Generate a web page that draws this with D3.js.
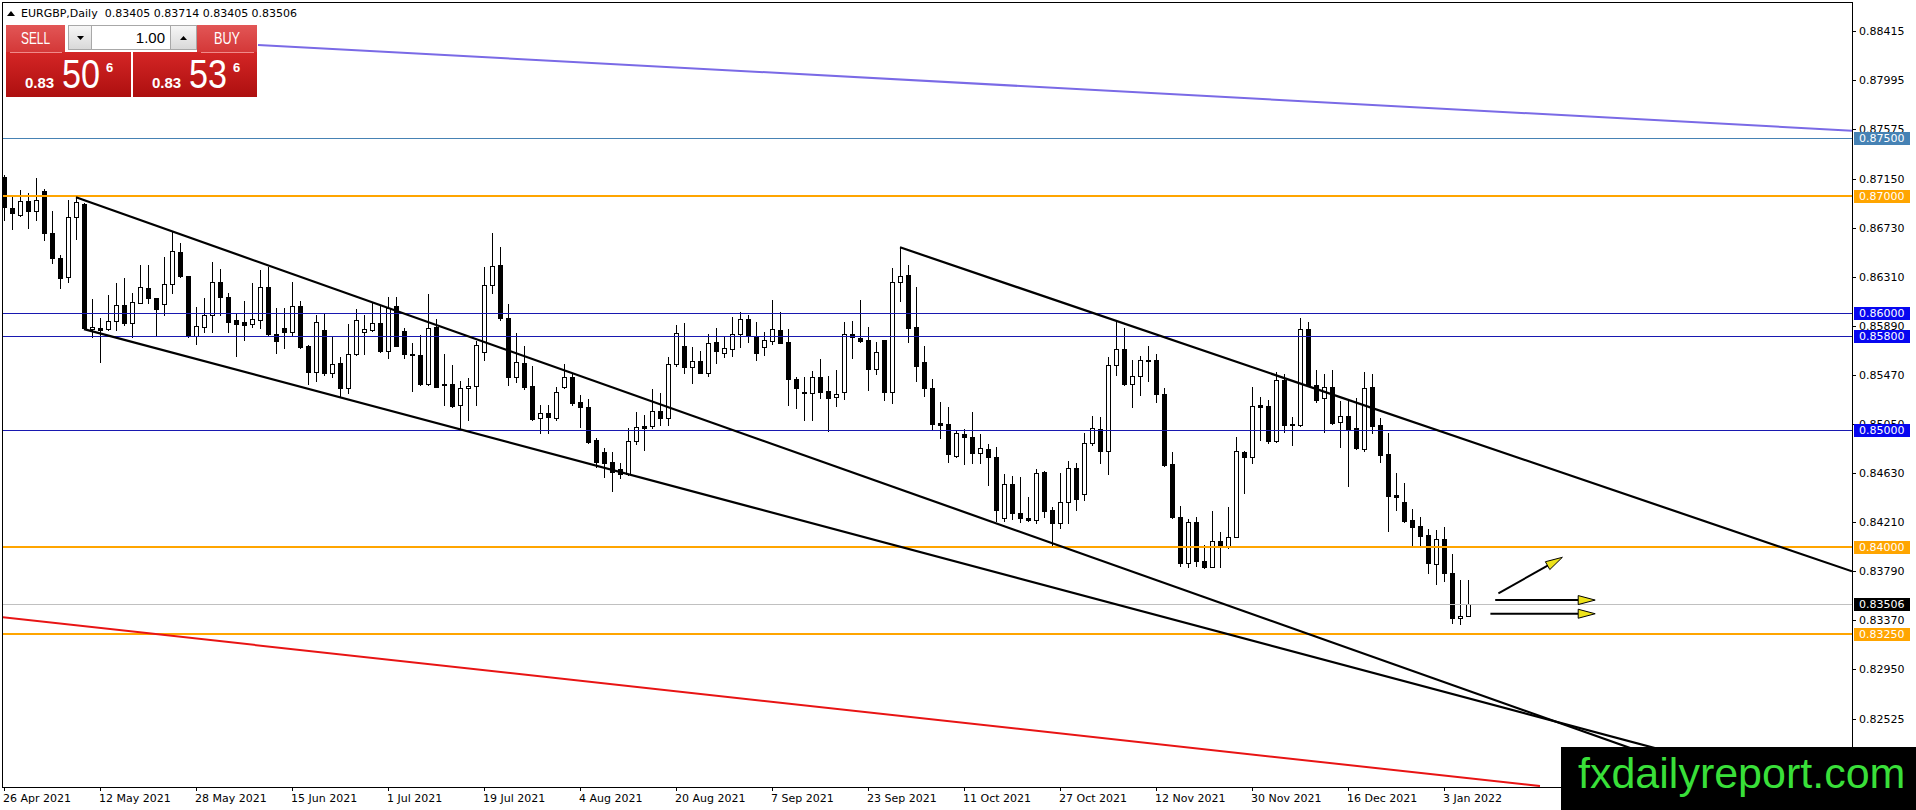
<!DOCTYPE html>
<html>
<head>
<meta charset="utf-8">
<script src="https://cdn.jsdelivr.net/npm/d3@7"></script>
<style>
  html, body { margin: 0; padding: 0; background: #fff; }
  svg { display: block; }
</style>
</head>
<body>
<svg id="chart" width="1916" height="810" font-family="'DejaVu Sans', sans-serif"></svg>
<script>
// EURGBP daily bars from 26 Apr 2021
const opens = [
  0.87166, 0.86895, 0.86838, 0.86958, 0.86872, 0.87043, 0.86681, 0.86467, 0.86305, 0.86818,
  0.86930, 0.85860, 0.85874, 0.85860, 0.85931, 0.86068, 0.85916, 0.86088, 0.86211, 0.86125,
  0.86074, 0.86245, 0.86519, 0.86316, 0.85805, 0.85882, 0.85982, 0.86262, 0.86134, 0.85939,
  0.85922, 0.85905, 0.85939, 0.86224, 0.85817, 0.85868, 0.85839, 0.86062, 0.85717, 0.85497,
  0.85854, 0.85489, 0.85569, 0.85362, 0.85647, 0.85833, 0.85858, 0.85916, 0.85677, 0.86062,
  0.85845, 0.85649, 0.85640, 0.85396, 0.85882, 0.85389, 0.85389, 0.85212, 0.85355, 0.85375,
  0.85668, 0.86239, 0.86410, 0.85954, 0.85454, 0.85574, 0.85375, 0.85098, 0.85141, 0.85098,
  0.85370, 0.85449, 0.85238, 0.85192, 0.84913, 0.84812, 0.84727, 0.84662, 0.84622, 0.84904,
  0.85032, 0.85032, 0.85163, 0.85098, 0.85563, 0.85717, 0.85535, 0.85591, 0.85489, 0.85749,
  0.85660, 0.85689, 0.85817, 0.85948, 0.85803, 0.85706, 0.85762, 0.85854, 0.85749, 0.85432,
  0.85323, 0.85312, 0.85449, 0.85332, 0.85278, 0.85326, 0.85817, 0.85788, 0.85768, 0.85518,
  0.85768, 0.85326, 0.86262, 0.86325, 0.85877, 0.85578, 0.85355, 0.85061, 0.85049, 0.84778,
  0.84964, 0.84936, 0.84799, 0.84833, 0.84770, 0.84242, 0.84536, 0.84285, 0.84242, 0.84228,
  0.84641, 0.84313, 0.84200, 0.84384, 0.84670, 0.84450, 0.84884, 0.85004, 0.84821, 0.85552,
  0.85689, 0.85389, 0.85463, 0.85597, 0.85597, 0.85304, 0.84705, 0.84251, 0.83862, 0.84208,
  0.83880, 0.83828, 0.84051, 0.84005, 0.84085, 0.84807, 0.84764, 0.85212, 0.85204, 0.84907,
  0.85426, 0.85049, 0.85041, 0.85860, 0.85383, 0.85269, 0.85364, 0.85069, 0.85118, 0.85013,
  0.84836, 0.85364, 0.85041, 0.84793, 0.84442, 0.84384, 0.84228, 0.84177, 0.84100, 0.83851,
  0.84063, 0.83772, 0.83387, 0.83405
];
const highs = [
  0.87180, 0.86995, 0.87052, 0.87024, 0.87157, 0.87061, 0.86872, 0.86496, 0.86966, 0.86990,
  0.86941, 0.86117, 0.85954, 0.86153, 0.86254, 0.86296, 0.86168, 0.86410, 0.86410, 0.86125,
  0.86481, 0.86704, 0.86601, 0.86316, 0.86053, 0.86125, 0.86433, 0.86373, 0.86168, 0.85997,
  0.86105, 0.86254, 0.86367, 0.86390, 0.86040, 0.86040, 0.86262, 0.86105, 0.85726, 0.85982,
  0.85997, 0.85797, 0.85623, 0.85905, 0.86031, 0.85982, 0.86096, 0.86059, 0.86139, 0.86134,
  0.85871, 0.85743, 0.85811, 0.86162, 0.85945, 0.85649, 0.85554, 0.85417, 0.85440, 0.85762,
  0.86396, 0.86681, 0.86567, 0.86076, 0.85826, 0.85717, 0.85545, 0.85212, 0.85212, 0.85369,
  0.85563, 0.85489, 0.85298, 0.85261, 0.84930, 0.84841, 0.84812, 0.84713, 0.85013, 0.85155,
  0.85126, 0.85346, 0.85312, 0.85625, 0.85897, 0.85911, 0.85706, 0.85674, 0.85820, 0.85868,
  0.85797, 0.85963, 0.86005, 0.85982, 0.85920, 0.85839, 0.86111, 0.86005, 0.85862, 0.85454,
  0.85454, 0.85506, 0.85603, 0.85460, 0.85512, 0.85920, 0.85931, 0.86111, 0.85877, 0.85749,
  0.85768, 0.86382, 0.86562, 0.86410, 0.86219, 0.85717, 0.85432, 0.85240, 0.85198, 0.84992,
  0.85004, 0.85155, 0.84964, 0.84876, 0.84855, 0.84622, 0.84607, 0.84598, 0.84422, 0.84662,
  0.84650, 0.84337, 0.84633, 0.84735, 0.84718, 0.84975, 0.85118, 0.85112, 0.85625, 0.85925,
  0.85868, 0.85597, 0.85631, 0.85717, 0.85649, 0.85360, 0.84807, 0.84348, 0.84234, 0.84251,
  0.84014, 0.84307, 0.84128, 0.84342, 0.84936, 0.84818, 0.85364, 0.85278, 0.85255, 0.85497,
  0.85477, 0.85107, 0.85954, 0.85925, 0.85512, 0.85477, 0.85512, 0.85249, 0.85249, 0.85269,
  0.85497, 0.85477, 0.85098, 0.84975, 0.84633, 0.84542, 0.84319, 0.84256, 0.84148, 0.84142,
  0.84170, 0.83937, 0.83714, 0.83714
];
const lows = [
  0.86795, 0.86716, 0.86830, 0.86724, 0.86795, 0.86624, 0.86430, 0.86211, 0.86267, 0.86630,
  0.85860, 0.85797, 0.85583, 0.85850, 0.85854, 0.85897, 0.85797, 0.86082, 0.86082, 0.85811,
  0.85982, 0.86168, 0.86310, 0.85791, 0.85734, 0.85839, 0.85834, 0.85982, 0.85839, 0.85634,
  0.85768, 0.85880, 0.85868, 0.85803, 0.85661, 0.85702, 0.85811, 0.85704, 0.85389, 0.85415,
  0.85469, 0.85454, 0.85285, 0.85312, 0.85640, 0.85646, 0.85845, 0.85668, 0.85614, 0.85717,
  0.85614, 0.85334, 0.85383, 0.85383, 0.85366, 0.85212, 0.85198, 0.85018, 0.85084, 0.85212,
  0.85597, 0.86173, 0.85939, 0.85383, 0.85409, 0.85349, 0.85084, 0.84975, 0.84975, 0.85084,
  0.85357, 0.85212, 0.85026, 0.84889, 0.84684, 0.84593, 0.84479, 0.84585, 0.84613, 0.84878,
  0.84827, 0.85013, 0.85041, 0.85041, 0.85545, 0.85483, 0.85403, 0.85482, 0.85460, 0.85569,
  0.85625, 0.85634, 0.85711, 0.85749, 0.85597, 0.85640, 0.85734, 0.85740, 0.85212, 0.85184,
  0.85084, 0.85084, 0.85269, 0.84992, 0.85204, 0.85261, 0.85612, 0.85754, 0.85344, 0.85475,
  0.85255, 0.85232, 0.86105, 0.85754, 0.85417, 0.85289, 0.85004, 0.84927, 0.84727, 0.84767,
  0.84707, 0.84718, 0.84713, 0.84527, 0.84222, 0.84222, 0.84234, 0.84213, 0.84222, 0.84200,
  0.84256, 0.83999, 0.84157, 0.84205, 0.84313, 0.84399, 0.84870, 0.84713, 0.84622, 0.85469,
  0.85383, 0.85192, 0.85298, 0.85420, 0.85235, 0.84690, 0.84242, 0.83834, 0.83823, 0.83834,
  0.83815, 0.83823, 0.83828, 0.83988, 0.84080, 0.84456, 0.84718, 0.84913, 0.84884, 0.84900,
  0.84984, 0.84870, 0.85032, 0.85375, 0.85240, 0.84984, 0.85049, 0.84850, 0.84519, 0.84833,
  0.84821, 0.84975, 0.84727, 0.84136, 0.84313, 0.84213, 0.83994, 0.83999, 0.83777, 0.83680,
  0.83708, 0.83349, 0.83338, 0.83405
];
const closes = [
  0.86909, 0.86853, 0.86958, 0.86872, 0.86966, 0.86681, 0.86467, 0.86296, 0.86818, 0.86947,
  0.85868, 0.85877, 0.85856, 0.85931, 0.86068, 0.85916, 0.86091, 0.86224, 0.86125, 0.86031,
  0.86245, 0.86530, 0.86319, 0.85805, 0.85886, 0.85982, 0.86262, 0.86134, 0.85925, 0.85903,
  0.85901, 0.85945, 0.86224, 0.85817, 0.85764, 0.85839, 0.86062, 0.85711, 0.85497, 0.85925,
  0.85486, 0.85560, 0.85362, 0.85647, 0.85939, 0.85860, 0.85916, 0.85677, 0.86040, 0.85720,
  0.85646, 0.85640, 0.85396, 0.85868, 0.85369, 0.85381, 0.85206, 0.85355, 0.85375, 0.85723,
  0.86239, 0.86402, 0.85954, 0.85452, 0.85578, 0.85369, 0.85090, 0.85141, 0.85107, 0.85321,
  0.85452, 0.85227, 0.85191, 0.84898, 0.84727, 0.84718, 0.84641, 0.84622, 0.84907, 0.85021,
  0.85018, 0.85163, 0.85098, 0.85563, 0.85831, 0.85535, 0.85591, 0.85489, 0.85745, 0.85677,
  0.85697, 0.85817, 0.85948, 0.85805, 0.85660, 0.85768, 0.85862, 0.85745, 0.85432, 0.85355,
  0.85312, 0.85449, 0.85326, 0.85275, 0.85306, 0.85817, 0.85791, 0.85762, 0.85518, 0.85668,
  0.85326, 0.86262, 0.86319, 0.85874, 0.85548, 0.85355, 0.85049, 0.85044, 0.84790, 0.84970,
  0.84936, 0.84804, 0.84841, 0.84770, 0.84313, 0.84536, 0.84285, 0.84242, 0.84228, 0.84627,
  0.84307, 0.84200, 0.84384, 0.84670, 0.84405, 0.84884, 0.85013, 0.84821, 0.85552, 0.85689,
  0.85389, 0.85463, 0.85597, 0.85591, 0.85304, 0.84699, 0.84251, 0.83862, 0.84208, 0.83877,
  0.83823, 0.84051, 0.84005, 0.84085, 0.84821, 0.84764, 0.85206, 0.85198, 0.84907, 0.85426,
  0.85041, 0.85044, 0.85860, 0.85383, 0.85255, 0.85364, 0.85055, 0.85118, 0.85007, 0.84841,
  0.85355, 0.85032, 0.84784, 0.84433, 0.84427, 0.84222, 0.84170, 0.84091, 0.83857, 0.84063,
  0.83777, 0.83387, 0.83406, 0.83506
];

const symbolName = 'EURGBP,Daily';
const firstBarDate = new Date(2021, 3, 26);
const dateLabelEvery = 12;
const askPrice = 0.83536;
const lotSize = '1.00';

const priceTicks = [
  0.88415, 0.87995, 0.87575, 0.87150, 0.86730, 0.86310, 0.85890, 0.85470,
  0.85050, 0.84630, 0.84210, 0.83790, 0.83370, 0.82950, 0.82525
];
const levelPrices = [0.875, 0.87, 0.86, 0.858, 0.85, 0.84, 0.8325];
const levelKinds = ['steel', 'orange', 'blue', 'blue', 'blue', 'orange', 'orange'];

// trendline anchors as [bar index, price]
const channelUpper = [[9, 0.86990], [225, 0.81750]];
const channelLower = [[10, 0.85862], [225, 0.81936]];
const septemberLine = [[112, 0.86562], [231, 0.83789]];
const violetLine = [[31.75, 0.88293], [231, 0.87560]];
const redLine = [[-0.5, 0.83398], [192, 0.81951]];
const arrowMarks = [
  [[186.8, 0.83600], [194.8, 0.83909]],
  [[186.4, 0.83543], [198.9, 0.83543]],
  [[185.8, 0.83426], [198.9, 0.83426]]
];

(function (d3) {
  'use strict';

  const plot = { left: 2, top: 2, right: 1852, bottom: 787 };
  const sansFont = '"Liberation Sans", Arial, sans-serif';
  const svg = d3.select('#chart');

  const xScale = d3.scaleLinear().domain([0, 231]).range([4, 1852]);
  const yScale = d3.scaleLinear().domain([0.8325, 0.875]).range([634.3, 137.7]);
  const fmt5 = d3.format('.5f');
  const snap = v => Math.round(v) + 0.5;

  // weekday dates for every bar
  const barDates = [];
  let day = firstBarDate;
  while (barDates.length < closes.length) {
    const wd = day.getDay();
    if (wd !== 0 && wd !== 6) barDates.push(day);
    day = d3.timeDay.offset(day, 1);
  }
  const dateFmt = d3.timeFormat('%-d %b %Y');

  const bars = d3.range(closes.length).map(i => ({
    i,
    date: barDates[i],
    open: opens[i],
    high: highs[i],
    low: lows[i],
    close: closes[i]
  }));

  const defs = svg.append('defs');
  defs.append('clipPath').attr('id', 'plot-clip')
    .append('rect')
      .attr('x', plot.left + 1)
      .attr('y', plot.top + 1)
      .attr('width', plot.right - plot.left - 1)
      .attr('height', plot.bottom - plot.top - 1);

  const addGrad = (id, top, bottom) => {
    const g = defs.append('linearGradient').attr('id', id)
      .attr('x1', 0).attr('y1', 0).attr('x2', 0).attr('y2', 1);
    g.append('stop').attr('offset', '0%').attr('stop-color', top);
    g.append('stop').attr('offset', '100%').attr('stop-color', bottom);
  };
  addGrad('btn-red', '#e25656', '#d43838');
  addGrad('price-red', '#d42626', '#ad0f0f');
  addGrad('spin-gray', '#f7f7f7', '#d8d8d8');

  svg.append('rect')
    .attr('width', 1916).attr('height', 810).attr('fill', '#fff');

  const chartG = svg.append('g').attr('clip-path', 'url(#plot-clip)');

  // candles
  const candles = chartG.append('g').attr('class', 'candles')
    .selectAll('g').data(bars)
    .enter().append('g');

  candles.append('line')
    .attr('x1', d => snap(xScale(d.i)))
    .attr('x2', d => snap(xScale(d.i)))
    .attr('y1', d => Math.round(yScale(d.high)))
    .attr('y2', d => Math.round(yScale(d.low)) + 1)
    .attr('stroke', '#000')
    .attr('shape-rendering', 'crispEdges');

  candles.append('rect')
    .attr('x', d => Math.round(xScale(d.i)) - 1.5)
    .attr('y', d => Math.round(yScale(Math.max(d.open, d.close))) + 0.5)
    .attr('width', 4)
    .attr('height', d => Math.max(1,
      Math.round(yScale(Math.min(d.open, d.close))) - Math.round(yScale(Math.max(d.open, d.close)))))
    .attr('fill', d => d.close > d.open ? '#fff' : '#000')
    .attr('stroke', '#000')
    .attr('shape-rendering', 'crispEdges');

  // horizontal levels
  const lineColor = { steel: '#4682b4', orange: '#ffa500', blue: '#1818b0' };
  const boxColor = { steel: '#4682b4', orange: '#ffa500', blue: '#0707f0' };
  const lineWidth = { steel: 1, orange: 2, blue: 1 };
  const levels = levelPrices.map((p, k) => ({ p, kind: levelKinds[k] }));

  chartG.append('g').selectAll('line').data(levels)
    .enter().append('line')
      .attr('x1', plot.left).attr('x2', plot.right)
      .attr('y1', d => lineWidth[d.kind] === 1 ? snap(yScale(d.p)) : Math.round(yScale(d.p)))
      .attr('y2', d => lineWidth[d.kind] === 1 ? snap(yScale(d.p)) : Math.round(yScale(d.p)))
      .attr('stroke', d => lineColor[d.kind])
      .attr('stroke-width', d => lineWidth[d.kind])
      .attr('shape-rendering', 'crispEdges');

  // bid line
  const lastBar = bars[bars.length - 1];
  chartG.append('line')
    .attr('x1', plot.left).attr('x2', plot.right)
    .attr('y1', snap(yScale(lastBar.close)))
    .attr('y2', snap(yScale(lastBar.close)))
    .attr('stroke', '#c0c0c0')
    .attr('shape-rendering', 'crispEdges');

  // trendlines
  const line = d3.line().x(d => xScale(d[0])).y(d => yScale(d[1]));
  const trend = (pts, color, w) => chartG.append('path')
    .attr('d', line(pts))
    .attr('fill', 'none')
    .attr('stroke', color)
    .attr('stroke-width', w);
  trend(redLine, '#e81414', 2);
  trend(violetLine, '#7a6ae6', 2);
  trend(channelUpper, '#000', 2.2);
  trend(channelLower, '#000', 2.2);
  trend(septemberLine, '#000', 2.2);

  // arrows
  arrowMarks.forEach(([a, b]) => {
    const x0 = xScale(a[0]), y0 = yScale(a[1]);
    const x1 = xScale(b[0]), y1 = yScale(b[1]);
    const ang = Math.atan2(y1 - y0, x1 - x0);
    const len = 17, hw = 4.5;
    const bx = x1 - len * Math.cos(ang), by = y1 - len * Math.sin(ang);
    const nx = -Math.sin(ang) * hw, ny = Math.cos(ang) * hw;
    chartG.append('line')
      .attr('x1', x0).attr('y1', y0).attr('x2', bx).attr('y2', by)
      .attr('stroke', '#000').attr('stroke-width', 2);
    chartG.append('path')
      .attr('d', `M${x1},${y1}L${bx + nx},${by + ny}L${bx - nx},${by - ny}Z`)
      .attr('fill', '#ede21a')
      .attr('stroke', '#000')
      .attr('stroke-width', 1);
  });

  // frame
  svg.append('rect')
    .attr('x', plot.left + 0.5).attr('y', plot.top + 0.5)
    .attr('width', plot.right - plot.left)
    .attr('height', plot.bottom - plot.top)
    .attr('fill', 'none')
    .attr('stroke', '#000')
    .attr('shape-rendering', 'crispEdges');

  // price axis
  const yAxisG = svg.append('g').attr('class', 'y-axis');
  yAxisG.selectAll('line').data(priceTicks)
    .enter().append('line')
      .attr('x1', plot.right).attr('x2', plot.right + 4)
      .attr('y1', d => snap(yScale(d))).attr('y2', d => snap(yScale(d)))
      .attr('stroke', '#000')
      .attr('shape-rendering', 'crispEdges');
  yAxisG.selectAll('text').data(priceTicks)
    .enter().append('text')
      .attr('x', plot.right + 7)
      .attr('y', d => yScale(d))
      .attr('dy', '0.36em')
      .attr('font-size', 11)
      .attr('fill', '#000')
      .text(d => fmt5(d));

  const labelData = levels.map(d => ({ p: d.p, fill: boxColor[d.kind] }))
    .concat([{ p: lastBar.close, fill: '#000' }]);
  const tags = svg.append('g').selectAll('g').data(labelData)
    .enter().append('g')
      .attr('transform', d => `translate(${plot.right + 2},${Math.round(yScale(d.p))})`);
  tags.append('rect')
    .attr('x', 0).attr('y', -6).attr('width', 56).attr('height', 13)
    .attr('fill', d => d.fill);
  tags.append('text')
    .attr('x', 5).attr('y', 0.5).attr('dy', '0.36em')
    .attr('font-size', 11).attr('fill', '#fff')
    .text(d => fmt5(d.p));

  // time axis
  const dateTicks = bars.filter(d => d.i % dateLabelEvery === 0);
  const xAxisG = svg.append('g').attr('class', 'x-axis');
  xAxisG.selectAll('line').data(dateTicks)
    .enter().append('line')
      .attr('x1', d => snap(xScale(d.i))).attr('x2', d => snap(xScale(d.i)))
      .attr('y1', plot.bottom).attr('y2', plot.bottom + 4)
      .attr('stroke', '#000')
      .attr('shape-rendering', 'crispEdges');
  xAxisG.selectAll('text').data(dateTicks)
    .enter().append('text')
      .attr('x', d => Math.round(xScale(d.i)) - 1)
      .attr('y', 801.5)
      .attr('font-size', 11)
      .attr('fill', '#000')
      .text(d => dateFmt(d.date));

  // title
  svg.append('path')
    .attr('d', 'M7,16L15,16L11,11Z')
    .attr('fill', '#000');
  svg.append('text')
    .attr('x', 21)
    .attr('y', 17)
    .attr('font-size', 11)
    .style('white-space', 'pre')
    .text(`${symbolName}  ${fmt5(lastBar.open)} ${fmt5(lastBar.high)} ${fmt5(lastBar.low)} ${fmt5(lastBar.close)}`);

  // one click trading panel
  const panel = svg.append('g').attr('class', 'trade-panel');
  const priceParts = p => {
    const s = fmt5(p);
    return [s.slice(0, 4), s.slice(4, 6), s.slice(6)];
  };
  const priceBox = (x, w, p) => {
    const [big, mid, pip] = priceParts(p);
    panel.append('rect')
      .attr('x', x).attr('y', 52).attr('width', w).attr('height', 45)
      .attr('fill', 'url(#price-red)');
    panel.append('text')
      .attr('x', x + 19).attr('y', 87.5)
      .attr('font-family', sansFont)
      .attr('font-weight', 'bold').attr('font-size', 15)
      .attr('fill', '#fff').text(big);
    panel.append('text')
      .attr('x', x + 56).attr('y', 87.5)
      .attr('font-family', sansFont)
      .attr('font-size', 40)
      .attr('textLength', 38).attr('lengthAdjust', 'spacingAndGlyphs')
      .attr('fill', '#fff').text(mid);
    panel.append('text')
      .attr('x', x + 100).attr('y', 72)
      .attr('font-family', sansFont)
      .attr('font-weight', 'bold').attr('font-size', 13)
      .attr('fill', '#fff').text(pip);
  };
  priceBox(6, 125, lastBar.close);
  priceBox(133, 124, askPrice);

  const topButton = (x, w, label, tl) => {
    panel.append('rect')
      .attr('x', x).attr('y', 25).attr('width', w).attr('height', 27)
      .attr('fill', 'url(#btn-red)');
    panel.append('line')
      .attr('x1', x + 4).attr('x2', x + w - 3)
      .attr('y1', 52.5).attr('y2', 52.5)
      .attr('stroke', '#f08a8a').attr('stroke-width', 1);
    panel.append('text')
      .attr('x', x + w / 2).attr('y', 44)
      .attr('text-anchor', 'middle')
      .attr('font-family', sansFont)
      .attr('font-size', 16)
      .attr('textLength', tl).attr('lengthAdjust', 'spacingAndGlyphs')
      .attr('fill', '#fff').text(label);
  };
  topButton(6, 59, 'SELL', 29);
  topButton(197, 60, 'BUY', 26);

  panel.append('rect')
    .attr('x', 68.5).attr('y', 25.5).attr('width', 128).attr('height', 24)
    .attr('fill', '#fff').attr('stroke', '#a8a8a8');
  panel.append('rect')
    .attr('x', 68.5).attr('y', 25.5).attr('width', 23).attr('height', 24)
    .attr('fill', 'url(#spin-gray)').attr('stroke', '#a8a8a8');
  panel.append('rect')
    .attr('x', 170.5).attr('y', 25.5).attr('width', 26).attr('height', 24)
    .attr('fill', 'url(#spin-gray)').attr('stroke', '#a8a8a8');
  panel.append('path').attr('d', 'M77,36L84,36L80.5,40Z').attr('fill', '#000');
  panel.append('path').attr('d', 'M180,40L187,40L183.5,36Z').attr('fill', '#000');
  panel.append('text')
    .attr('x', 165).attr('y', 43)
    .attr('text-anchor', 'end')
    .attr('font-family', sansFont)
    .attr('font-size', 15)
    .attr('fill', '#000').text(lotSize);

  // watermark
  svg.append('rect')
    .attr('x', 1561).attr('y', 747).attr('width', 355).attr('height', 63)
    .attr('fill', '#000');
  svg.append('text')
    .attr('x', 1578).attr('y', 788)
    .attr('font-family', sansFont)
    .attr('font-size', 43)
    .attr('fill', '#39df39')
    .text('fxdailyreport.com');

}(d3));
</script>
</body>
</html>
